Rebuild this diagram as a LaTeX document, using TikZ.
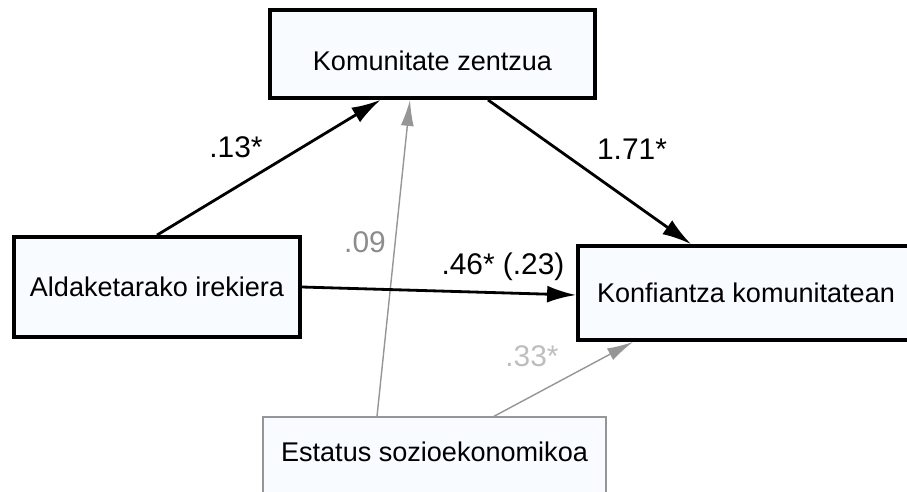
\documentclass[tikz,border=0pt]{standalone}
\usepackage{fontspec}
\setmainfont{Liberation Sans}
\usetikzlibrary{arrows.meta}
\definecolor{boxfill}{RGB}{248,251,255}
\definecolor{weakline}{RGB}{150,150,150}
\definecolor{coefdim}{RGB}{140,140,140}
\definecolor{coeffaint}{RGB}{190,190,190}
\begin{document}
\begin{tikzpicture}[x=0.02cm, y=-0.02cm,
  var/.style={draw, line width=2.2pt, fill=boxfill, inner sep=0pt, text height=11.1pt, text depth=0pt, font=\fontsize{15.4}{18}\selectfont},
  covar/.style={var, draw=weakline, line width=0.8pt},
  strongpath/.style={-{Latex[length=0.58cm, width=0.34cm]}, line width=1.6pt},
  weakpath/.style={-{Latex[length=0.52cm, width=0.26cm]}, line width=0.8pt, draw=weakline, fill=weakline},
  coef/.style={font=\fontsize{17}{20}\selectfont, inner sep=0pt}]
  \useasboundingbox (0,0) rectangle (907,491);

  % Variables
  \node[var, minimum width=6.5cm, minimum height=1.76cm, text height=19.1pt] (K) at (432.5, 54) {Komunitate zentzua};
  \node[var, minimum width=5.72cm, minimum height=2cm] (A) at (157, 287) {Aldaketarako irekiera};
  \node[var, minimum width=6.72cm, minimum height=1.88cm] (C) at (746, 293) {Konfiantza komunitatean};
  \node[covar, minimum width=6.86cm, minimum height=1.76cm, text depth=10.2pt] (E) at (434.5, 461) {Estatus sozioekonomikoa};

  % Control paths (grey)
  \draw[weakpath] ([xshift=-1.15cm]E.north) -- ([xshift=-0.45cm]K.south);
  \draw[weakpath] ([xshift=1.19cm]E.north) -- ([xshift=-2.26cm]C.south);

  % Mediation paths
  \draw[strongpath] (A.north) -- ([xshift=-1.04cm]K.south);
  \draw[strongpath] ([xshift=1.11cm]K.south) -- ([xshift=-1.1cm]C.north);
  \draw[strongpath] (A.east) -- ([yshift=-0.04cm]C.west);

  % Coefficients
  \node[coef] (b13) at (236, 147) {.13*};
  \node[coef] (b171) at (632, 149) {1.71*};
  \node[coef] (b46) at (503, 267) {.46* (.23)};
  \node[coef, text=coefdim] (b09) at (365, 242) {.09};
  \node[coef, text=coeffaint] (b33) at (532, 356) {.33*};
\end{tikzpicture}
\end{document}
